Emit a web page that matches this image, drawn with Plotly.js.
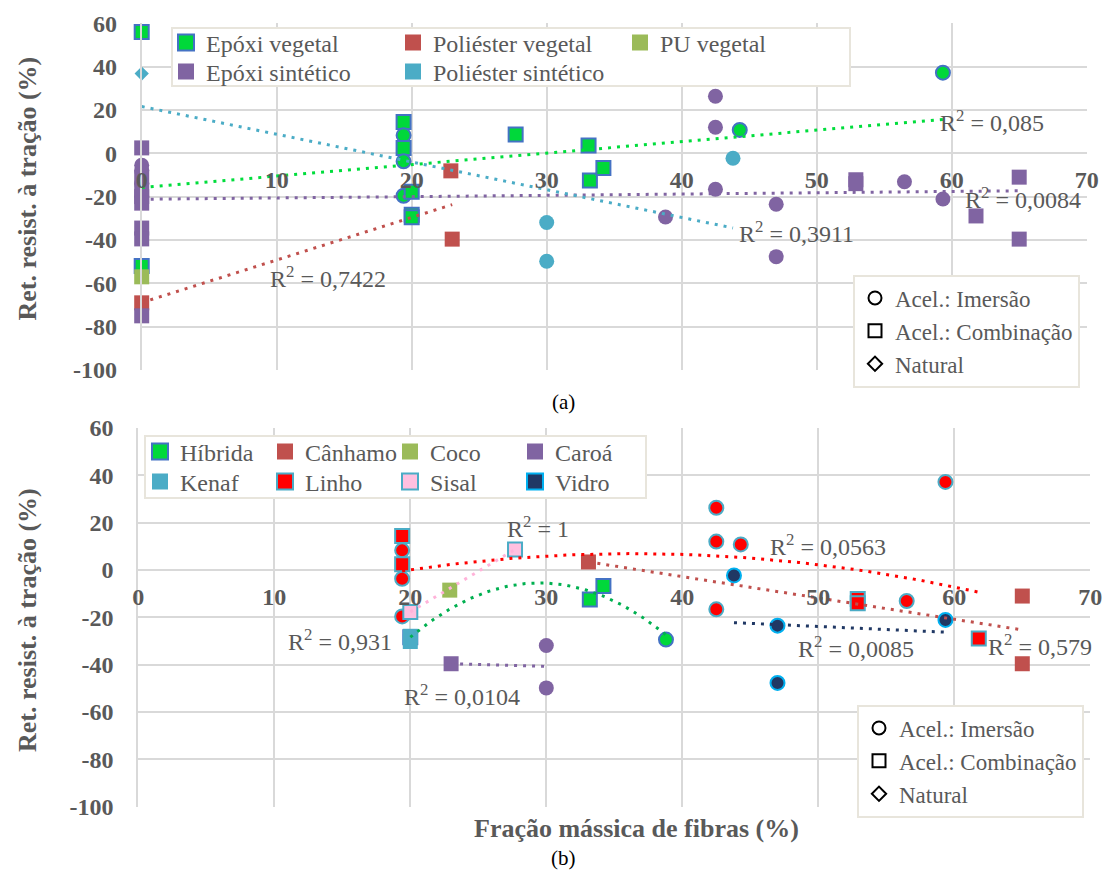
<!DOCTYPE html>
<html><head><meta charset="utf-8">
<script src="https://cdn.plot.ly/plotly-3.0.1.min.js"></script>
<style>html,body{margin:0;padding:0;background:#fff}#chart{width:1104px;height:872px}</style>
</head><body><div id="chart"></div>
<script>
// ===== DATA =====
// aging type: I = Acel.: Imersão, C = Acel.: Combinação, N = Natural
// ---- (a) grouped by matrix ----
const aNames = ['Epóxi vegetal','Poliéster vegetal','PU vegetal','Epóxi sintético','Poliéster sintético'];
const aEpoxiVegX = [0, 0, 19.4, 19.4, 19.4, 19.4, 19.4, 20, 20, 20, 27.7, 33.1, 33.2, 34.2, 44.3, 59.35];
const aEpoxiVegY = [56, -52, 14.4, 8.3, 2.4, -3.7, -19.6, -17.7, -28.4, -29.5, 8.7, 3.6, -12.5, -6.8, 10.8, 37.2];
const aEpoxiVegT = ['C','C','C','I','C','I','I','C','C','C','C','C','C','C','I','I'];
const aPoliVegX = [0, 22.9, 23.0];
const aPoliVegY = [-69, -8.1, -39.6];
const aPoliVegT = ['C','C','C'];
const aPUVegX = [0];
const aPUVegY = [-57];
const aPUVegT = ['C'];
const aEpoxiSinX = [0,0,0,0,0,0,0,0,0,0,0, 38.8, 42.5, 42.5, 42.5, 47, 47, 52.9, 52.9, 56.5, 59.35, 61.8, 65, 65];
const aEpoxiSinY = [2.5,-5.5,-8,-11,-14,-17,-20,-23,-34.5,-39.5,-75, -29.4, 26.3, 12.0, -16.6, -23.5, -47.7, -12.2, -14, -13.1, -21.1, -28.9, -11, -39.6];
const aEpoxiSinT = ['C','I','I','C','I','C','C','C','C','C','C','I','I','I','I','I','I','C','C','I','I','C','C','C'];
const aPoliSinX = [0, 30, 30, 43.8];
const aPoliSinY = [36.8, -31.9, -49.8, -2.3];
const aPoliSinT = ['N','I','I','I'];
// trendlines (a): polynomial coefficients [c0, c1, c2...] and x span, R² labels
const aTrendCoef = [[-15.8, 0.53], [-68.9, 1.966], [-21.2, 0.06], [21.6, -1.28]];
const aTrendFrom = [0, 0, 0, 0];
const aTrendTo = [59.35, 23.0, 65, 43.8];
const aTrendR2 = ['0,085', '0,7422', '0,0084', '0,3911'];

// ---- (b) grouped by fibre ----
const bNames = ['Híbrida','Cânhamo','Coco','Caroá','Kenaf','Linho','Sisal','Vidro'];
const bHibX = [20, 33.2, 34.2, 38.8];
const bHibY = [-28.4, -12.5, -6.8, -29.4];
const bHibT = ['C','C','C','I'];
const bCanX = [33.1, 65, 65];
const bCanY = [3.4, -11, -39.6];
const bCanT = ['C','C','C'];
const bCocoX = [22.9];
const bCocoY = [-8.5];
const bCocoT = ['C'];
const bCaroaX = [23, 30, 30];
const bCaroaY = [-39.6, -31.9, -49.8];
const bCaroaT = ['C','I','I'];
const bKenafX = [20, 20];
const bKenafY = [-28, -30.2];
const bKenafT = ['C','C'];
const bLinhoX = [19.4, 19.4, 19.4, 19.4, 19.4, 42.5, 42.5, 42.5, 44.3, 52.9, 52.9, 56.5, 59.35, 61.8];
const bLinhoY = [14.4, 8.3, 2.4, -3.7, -19.6, 26.3, 12.0, -16.6, 10.8, -12.2, -14, -13.1, 37.2, -28.9];
const bLinhoT = ['C','I','C','I','I','I','I','I','I','C','C','I','I','C'];
const bSisalX = [20, 27.7];
const bSisalY = [-17.7, 8.7];
const bSisalT = ['C','C'];
const bVidroX = [43.8, 47, 47, 59.35];
const bVidroY = [-2.3, -23.5, -47.7, -21.1];
const bVidroT = ['I','I','I','I'];
// trendlines (b): Híbrida, Cânhamo, Caroá, Linho, Sisal, Vidro
const bTrendCoef = [[-226.3, 14.97, -0.2537], [33.2, -0.9], [-35.7, -0.168], [-26.65, 1.8445, -0.02533], [-86.27, 3.4286], [-10.9, -0.259]];
const bTrendFrom = [20, 33.1, 23, 19.4, 20, 43.8];
const bTrendTo = [38.8, 65, 30, 61.8, 27.7, 59.35];
const bTrendR2 = ['0,931', '0,579', '0,0104', '0,0563', '1', '0,0085'];

const xTicks = [0, 10, 20, 30, 40, 50, 60, 70];
const yTicks = [-100, -80, -60, -40, -20, 0, 20, 40, 60];
const keyNames = ['Acel.: Imersão', 'Acel.: Combinação', 'Natural'];

// ===== STYLE =====
const W = 1104, H = 872;
const fx = p => p / W, fy = p => 1 - p / H;
const GREEN = '#00D83A', BLUE = '#4472C4', BRICK = '#C0504D', OLIVE = '#9BBB59', PURPLE = '#8064A2', CYAN = '#4BACC6';
const aStyle = [
  {fill: GREEN, line: BLUE}, {fill: BRICK}, {fill: OLIVE}, {fill: PURPLE}, {fill: CYAN}
];
const bStyle = [
  {fill: GREEN, line: BLUE}, {fill: BRICK}, {fill: OLIVE}, {fill: PURPLE}, {fill: CYAN},
  {fill: '#FF0000', line: CYAN}, {fill: '#FFC0E0', line: CYAN}, {fill: '#203864', line: '#00B0F0'}
];
const aTrendColor = ['#00DD3C', BRICK, PURPLE, CYAN];
const bTrendColor = ['#00B050', BRICK, PURPLE, '#FF0000', '#FFB3D9', '#203864'];
const aR2Pos = [[63.0, 14.9], [13.8, -57.1], [65.3, -20.6], [48.5, -36.4]];
const bR2Pos = [[14.8, -29.6], [66.3, -31.7], [23.8, -52.8], [50.7, 10.6], [29.4, 18.2], [52.8, -32.5]];

const SERIF = '"Liberation Serif", "DejaVu Serif", serif';
const GRAY = '#595959';
const symMap = {I: 'circle', C: 'square', N: 'diamond'};

function markerTrace(x, y, t, st, xa, ya) {
  const bordered = !!st.line;
  return {
    type: 'scatter', mode: 'markers', x: x, y: y, xaxis: xa, yaxis: ya,
    showlegend: false, hoverinfo: 'skip', cliponaxis: false,
    marker: {
      symbol: t.map(s => symMap[s]),
      size: t.map(s => s === 'N' ? 11 : (bordered ? 14 : 15)),
      color: st.fill, opacity: 1,
      line: {color: bordered ? st.line : st.fill, width: bordered ? 2 : 0}
    }
  };
}
function legendEntry(name, st, legend) {
  return {
    type: 'scatter', mode: 'markers', x: [null], y: [null], name: name, legend: legend,
    hoverinfo: 'skip',
    marker: {symbol: 'square', size: 16, color: st.fill, opacity: 1,
      line: {color: st.line || st.fill, width: st.line ? 2 : 0}}
  };
}
function keyEntry(name, sym, legend) {
  return {
    type: 'scatter', mode: 'markers', x: [null], y: [null], name: name, legend: legend,
    hoverinfo: 'skip',
    marker: {symbol: sym + '-open', size: sym === 'diamond' ? 11 : 13, color: '#000', opacity: 1, line: {color: '#000', width: 2}}
  };
}
function trendTrace(coef, x0, x1, color, xa, ya) {
  const xs = [], ys = [];
  const n = 80;
  for (let i = 0; i <= n; i++) {
    const x = x0 + (x1 - x0) * i / n;
    let y = 0;
    coef.forEach((c, k) => { y += c * Math.pow(x, k); });
    xs.push(x); ys.push(y);
  }
  return {type: 'scatter', mode: 'lines', x: xs, y: ys, xaxis: xa, yaxis: ya, showlegend: false,
    hoverinfo: 'skip', line: {color: color, width: 3, dash: '3px,6px'}};
}

const traces = [];
const aData = [[aEpoxiVegX, aEpoxiVegY, aEpoxiVegT], [aPoliVegX, aPoliVegY, aPoliVegT], [aPUVegX, aPUVegY, aPUVegT],
  [aEpoxiSinX, aEpoxiSinY, aEpoxiSinT], [aPoliSinX, aPoliSinY, aPoliSinT]];
aData.forEach((d, i) => traces.push(markerTrace(d[0], d[1], d[2], aStyle[i], 'x', 'y')));
aTrendCoef.forEach((c, i) => traces.push(trendTrace(c, aTrendFrom[i], aTrendTo[i], aTrendColor[i], 'x', 'y')));
const bData = [[bHibX, bHibY, bHibT], [bCanX, bCanY, bCanT], [bCocoX, bCocoY, bCocoT], [bCaroaX, bCaroaY, bCaroaT],
  [bKenafX, bKenafY, bKenafT], [bLinhoX, bLinhoY, bLinhoT], [bSisalX, bSisalY, bSisalT], [bVidroX, bVidroY, bVidroT]];
bData.forEach((d, i) => traces.push(markerTrace(d[0], d[1], d[2], bStyle[i], 'x2', 'y2')));
bTrendCoef.forEach((c, i) => traces.push(trendTrace(c, bTrendFrom[i], bTrendTo[i], bTrendColor[i], 'x2', 'y2')));
aNames.forEach((n, i) => traces.push(legendEntry(n, aStyle[i], i < 3 ? 'legend' : 'legend5')));
bNames.forEach((n, i) => traces.push(legendEntry(n, bStyle[i], i < 4 ? 'legend3' : 'legend6')));
['circle', 'square', 'diamond'].forEach((s, i) => {
  traces.push(keyEntry(keyNames[i], s, 'legend2'));
  traces.push(keyEntry(keyNames[i], s, 'legend4'));
});

const tickFont = {family: SERIF, size: 24, color: GRAY, weight: 'bold'};
const aDomX = [fx(141.7), fx(1086.7)], aDomY = [fy(370), fy(23.3)];
const bDomX = [fx(138.3), fx(1090.3)], bDomY = [fy(806.7), fy(428)];
function xAxis(dom, domY) {
  return {domain: dom, range: [0, 70], tickmode: 'array', tickvals: xTicks, ticktext: xTicks.map(String),
    anchor: 'free', position: domY[0] + (domY[1] - domY[0]) * 100 / 160,
    showgrid: true, gridcolor: '#d9d9d9', gridwidth: 2, zeroline: false, showline: false,
    ticks: '', ticklabelstandoff: 10, tickfont: tickFont, fixedrange: true};
}
function yAxis(dom, xa) {
  return {domain: dom, anchor: xa, range: [-100, 60], tickmode: 'array', tickvals: yTicks, ticktext: yTicks.map(String),
    showgrid: true, gridcolor: '#d9d9d9', gridwidth: 2, zeroline: false, showline: true,
    linecolor: '#d9d9d9', linewidth: 2, ticks: '', ticklabelstandoff: 18, tickfont: tickFont, fixedrange: true};
}
const legFont = {family: SERIF, size: 24, color: GRAY};
function rowLegend(xp, yp, ew) {
  return {x: fx(xp), y: fy(yp), xanchor: 'left', yanchor: 'middle', orientation: 'h',
    entrywidth: ew, entrywidthmode: 'pixels', font: legFont, bgcolor: 'rgba(0,0,0,0)', borderwidth: 0,
    itemclick: false, itemdoubleclick: false, itemwidth: 30};
}
function keyLegend(xp, yp) {
  return {x: fx(xp), y: fy(yp), xanchor: 'left', yanchor: 'middle', orientation: 'v',
    font: {family: SERIF, size: 23, color: GRAY}, bgcolor: '#ffffff', bordercolor: '#e8e5dc', borderwidth: 2, tracegroupgap: 0,
    itemclick: false, itemdoubleclick: false, itemwidth: 30};
}

const annotations = [];
aTrendR2.forEach((r, i) => annotations.push({xref: 'x', yref: 'y', x: aR2Pos[i][0], y: aR2Pos[i][1],
  text: 'R<sup>2</sup> = ' + r, showarrow: false, font: {family: SERIF, size: 24, color: GRAY}}));
bTrendR2.forEach((r, i) => annotations.push({xref: 'x2', yref: 'y2', x: bR2Pos[i][0], y: bR2Pos[i][1],
  text: 'R<sup>2</sup> = ' + r, showarrow: false, font: {family: SERIF, size: 24, color: GRAY}}));
const titleFont = {family: SERIF, size: 26, color: GRAY, weight: 'bold'};
annotations.push({xref: 'paper', yref: 'paper', x: fx(27), y: fy(188.5), text: 'Ret. resist. à tração (%)',
  textangle: -90, showarrow: false, font: titleFont, xanchor: 'center', yanchor: 'middle'});
annotations.push({xref: 'paper', yref: 'paper', x: fx(27), y: fy(620), text: 'Ret. resist. à tração (%)',
  textangle: -90, showarrow: false, font: titleFont, xanchor: 'center', yanchor: 'middle'});
annotations.push({xref: 'paper', yref: 'paper', x: fx(636), y: fy(828), text: 'Fração mássica de fibras (%)',
  showarrow: false, font: titleFont, xanchor: 'center', yanchor: 'middle'});
annotations.push({xref: 'paper', yref: 'paper', x: fx(563), y: fy(402), text: '(a)',
  showarrow: false, font: {family: SERIF, size: 21, color: '#000'}, xanchor: 'center', yanchor: 'middle'});
annotations.push({xref: 'paper', yref: 'paper', x: fx(563), y: fy(858), text: '(b)',
  showarrow: false, font: {family: SERIF, size: 21, color: '#000'}, xanchor: 'center', yanchor: 'middle'});

const shapes = [
  {type: 'rect', xref: 'paper', yref: 'paper', x0: fx(172), x1: fx(850), y0: fy(86), y1: fy(28),
    fillcolor: '#ffffff', line: {color: '#e8e5dc', width: 2}, layer: 'above'},
  {type: 'rect', xref: 'paper', yref: 'paper', x0: fx(145), x1: fx(646), y0: fy(498), y1: fy(436),
    fillcolor: '#ffffff', line: {color: '#e8e5dc', width: 2}, layer: 'above'}
];

const layout = {
  width: W, height: H, margin: {l: 0, r: 0, t: 0, b: 0}, paper_bgcolor: '#fff', plot_bgcolor: '#fff',
  font: {family: SERIF, color: GRAY},
  xaxis: xAxis(aDomX, aDomY), yaxis: yAxis(aDomY, 'x'),
  xaxis2: xAxis(bDomX, bDomY), yaxis2: yAxis(bDomY, 'x2'),
  legend: rowLegend(166, 43, 182),
  legend5: rowLegend(166, 72, 182),
  legend3: rowLegend(140, 452, 80),
  legend6: rowLegend(140, 482, 80),
  legend2: keyLegend(853, 331),
  legend4: keyLegend(857, 761),
  annotations: annotations, shapes: shapes, showlegend: true
};
Plotly.newPlot('chart', traces, layout, {staticPlot: true, displayModeBar: false});
</script></body></html>
